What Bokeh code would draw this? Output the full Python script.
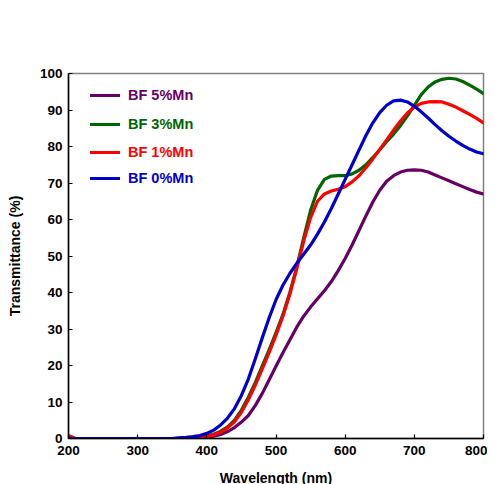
from bokeh.plotting import figure
from bokeh.models import Legend, LegendItem, Range1d, FixedTicker
from bokeh.embed import file_html
from bokeh.resources import INLINE

wl_5 = [200, 350, 400, 410, 420, 430, 440, 450, 460, 470, 480, 490, 500, 510, 520, 530, 540, 550, 560, 570, 580, 590, 600,
        610, 620, 630, 640, 650, 660, 670, 680, 690, 700, 710, 720, 730, 740, 750, 760, 770, 780, 790, 800]
t_5 = [0, 0, 0.3, 0.6, 1.1, 1.9, 3, 4.5, 6.3, 9, 12.3, 16, 19.8, 23.5, 27, 30.5, 33.5, 36, 38.3, 40.5, 43, 46, 49.3,
       53, 57, 61, 64.8, 68, 70.5, 72, 73, 73.5, 73.6, 73.5, 73, 72.2, 71.4, 70.6, 69.8, 69, 68.2, 67.5, 67]

wl_3 = [200, 360, 380, 390, 400, 410, 420, 430, 440, 450, 460, 470, 480, 490, 500, 510, 520, 530, 540, 550, 560, 570, 580,
        590, 600, 610, 620, 630, 640, 650, 660, 670, 680, 690, 700, 710, 720, 730, 740, 750, 760, 770, 780, 790, 800]
t_3 = [0, 0, 0.2, 0.4, 0.7, 1.2, 2, 3.2, 5, 7.8, 11.3, 15.3, 19.8, 24.3, 29, 34, 40, 47, 55, 62.5, 68, 71, 71.9,
       72, 72, 72.5, 73.5, 75, 77, 79.1, 81.3, 83.4, 85.7, 88.4, 91.3, 94.2, 96.3, 97.7, 98.4, 98.7, 98.5, 97.8, 96.8, 95.7, 94.5]

wl_1 = [200, 210, 360, 380, 390, 400, 410, 420, 430, 440, 450, 460, 470, 480, 490, 500, 510, 520, 530, 540, 550, 560, 570,
        580, 590, 600, 610, 620, 630, 640, 650, 660, 670, 680, 690, 700, 710, 720, 730, 740, 750, 760, 770, 780, 790, 800]
t_1 = [0.8, 0, 0, 0.2, 0.4, 0.6, 1.0, 1.7, 2.9, 4.6, 7.2, 10.6, 14.6, 19, 23.5, 28.3, 33.5, 39.5, 46.5, 54, 60.5, 65, 67,
       67.8, 68.3, 69, 70.3, 72, 74.2, 76.6, 79.2, 81.8, 84.5, 87, 89.2, 90.8, 91.8, 92.2, 92.3, 92.2, 91.6, 90.8, 89.8, 88.8, 87.7, 86.5]

wl_0 = [200, 350, 360, 370, 380, 390, 400, 410, 420, 430, 440, 450, 460, 470, 480, 490, 500, 510, 520, 530, 540, 550, 560,
        570, 580, 590, 600, 610, 620, 630, 640, 650, 660, 670, 680, 690, 700, 710, 720, 730, 740, 750, 760, 770, 780, 790, 800]
t_0 = [0, 0, 0.2, 0.3, 0.5, 0.8, 1.4, 2.3, 3.7, 5.6, 8.2, 11.8, 16.3, 21.8, 27.5, 33, 38, 42, 45.2, 48, 50.5, 53, 56,
       59.3, 63, 67, 71, 75, 79, 83, 86.5, 89.3, 91.3, 92.5, 92.7, 92.2, 91, 89.5, 87.8, 86, 84.3, 82.8, 81.5, 80.3, 79.3, 78.5, 78]

labels = ["BF 5%Mn", "BF 3%Mn", "BF 1%Mn", "BF 0%Mn"]
colors = ["#660066", "#006600", "#ff0000", "#0000cc"]
x_ticks = [200, 300, 400, 500, 600, 700, 800]
y_ticks = [0, 10, 20, 30, 40, 50, 60, 70, 80, 90, 100]

FONT = "Liberation Sans"

p = figure(width=487, height=484, output_backend="svg", toolbar_location=None,
           frame_width=415, frame_height=365,
           min_border_left=68, min_border_top=73, min_border_right=4, min_border_bottom=46,
           x_range=Range1d(200, 800), y_range=Range1d(0, 100))
p.background_fill_color = "white"
p.border_fill_color = "white"
p.outline_line_color = "#808080"
p.outline_line_width = 1.5
p.xgrid.visible = False
p.ygrid.visible = False

series = [(wl_5, t_5), (wl_3, t_3), (wl_1, t_1), (wl_0, t_0)]
renderers = []
for (xs, ys), c in zip(series, colors):
    r = p.line(xs, ys, line_color=c, line_width=3.2, line_join="round", line_cap="round")
    renderers.append(r)

for ax in (p.xaxis[0], p.yaxis[0]):
    ax.axis_line_color = "black"
    ax.axis_line_width = 1.5
    ax.major_tick_line_color = "black"
    ax.major_tick_line_width = 1.2
    ax.major_tick_in = 4
    ax.major_tick_out = 0
    ax.minor_tick_line_color = None
    ax.major_label_text_font = FONT
    ax.major_label_text_font_style = "bold"
    ax.major_label_text_font_size = "13.5px"
    ax.major_label_text_color = "black"
    ax.axis_label_text_font = FONT
    ax.axis_label_text_font_style = "bold"
    ax.axis_label_text_font_size = "14px"
    ax.axis_label_text_color = "black"

p.xaxis[0].ticker = FixedTicker(ticks=x_ticks)
p.yaxis[0].ticker = FixedTicker(ticks=y_ticks)
p.xaxis[0].axis_label = "Wavelength (nm)"
p.yaxis[0].axis_label = "Transmittance (%)"
p.xaxis[0].major_label_standoff = 7
p.yaxis[0].major_label_standoff = 6
p.xaxis[0].axis_label_standoff = 12
p.yaxis[0].axis_label_standoff = 14

legend_y = [335, 306, 278, 252]
for lab, c, r, ly in zip(labels, colors, renderers, legend_y):
    lg = Legend(items=[LegendItem(label=lab, renderers=[r])], location=(22, ly),
                glyph_width=30, glyph_height=16, label_height=16, label_standoff=8,
                padding=0, spacing=0, margin=0, border_line_color=None,
                background_fill_alpha=0,
                label_text_font=FONT, label_text_font_style="bold",
                label_text_font_size="14.5px", label_text_color=c)
    p.add_layout(lg, "center")

open("out.html", "w").write(file_html(p, INLINE))
